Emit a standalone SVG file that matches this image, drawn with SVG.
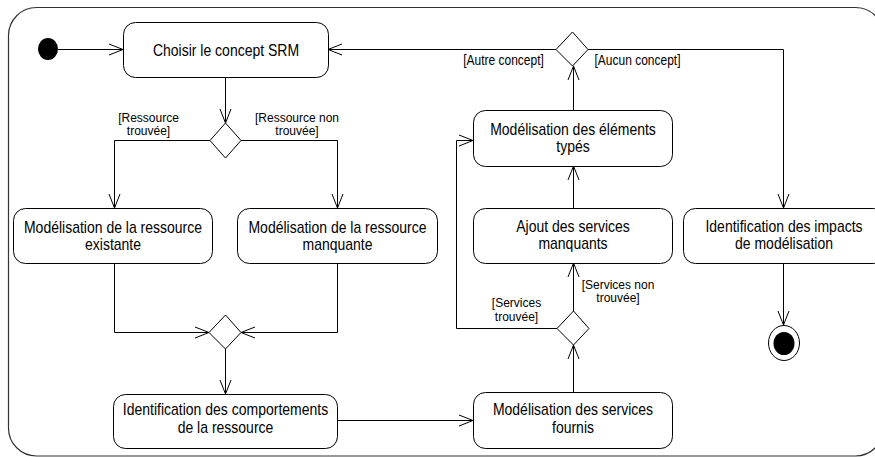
<svg xmlns="http://www.w3.org/2000/svg" width="875" height="457" viewBox="0 0 875 457">
<style>
.frame{fill:none;stroke:#333;stroke-width:1.2}
.act{fill:#fff;stroke:#000;stroke-width:1}
.dec{fill:#fff;stroke:#000;stroke-width:1}
.e{fill:none;stroke:#000;stroke-width:1;marker-end:url(#arr)}
.t{font-family:"Liberation Sans",Arial,sans-serif;font-size:14px;fill:#000;text-anchor:middle}
.l{font-family:"Liberation Sans",Arial,sans-serif;font-size:12px;fill:#000;text-anchor:middle}
</style>
<defs>
<marker id="arr" markerUnits="userSpaceOnUse" viewBox="0 0 14 11" refX="14" refY="5.5" markerWidth="14" markerHeight="11" orient="auto" overflow="visible">
<path d="M0,0 L14,5.5 L0,11" fill="none" stroke="#000" stroke-width="1"/>
</marker>
</defs>
<rect class="frame" x="8.5" y="7.5" width="875" height="448.5" rx="28" ry="28"/>

<g id="connectors">
<path class="e" d="M58,49.5 H123"/>
<path class="e" d="M225.5,77 V123"/>
<path class="e" d="M210,140.5 H114.5 V208"/>
<path class="e" d="M241,140.5 H337.5 V208"/>
<path class="e" d="M114.5,263 V332.5 H209"/>
<path class="e" d="M337.5,263 V332.5 H241"/>
<path class="e" d="M225.5,349 V394"/>
<path class="e" d="M337,420.5 H473"/>
<path class="e" d="M573.5,392 V345"/>
<path class="e" d="M573.5,311 V263"/>
<path class="e" d="M557,328.5 H456.5 V140.5 H473"/>
<path class="e" d="M573.5,208 V166"/>
<path class="e" d="M573.5,110 V66"/>
<path class="e" d="M556,49.5 H328"/>
<path class="e" d="M588,49.5 H783.5 V208"/>
<path class="e" d="M783.5,263 V325"/>
</g>

<g id="start"><ellipse cx="48" cy="49" rx="10" ry="11" fill="#000"/></g>

<g id="n1"><rect class="act" x="123.5" y="22.5" width="205" height="55" rx="12"/>
<text class="t" transform="translate(226,56) scale(1,1.15)">Choisir le concept SRM</text></g>

<g id="d1"><polygon class="dec" points="225.5,123 241,140.5 225.5,158 210,140.5"/></g>
<g id="lbl1"><text class="l" x="148.5" y="121.5">[Ressource<tspan x="148.5" dy="13.6">trouvée]</tspan></text></g>
<g id="lbl2"><text class="l" x="297" y="121.5">[Ressource non<tspan x="297" dy="13.6">trouvée]</tspan></text></g>

<g id="n2"><rect class="act" x="13.5" y="208.5" width="199" height="55" rx="12"/>
<text class="t" transform="translate(113,232.5) scale(1,1.15)"><tspan x="0" y="0">Modélisation de la ressource</tspan><tspan x="0" dy="15.6">existante</tspan></text></g>

<g id="n3"><rect class="act" x="237.5" y="208.5" width="200" height="55" rx="12"/>
<text class="t" transform="translate(337.5,232.5) scale(1,1.15)"><tspan x="0" y="0">Modélisation de la ressource</tspan><tspan x="0" dy="15.6">manquante</tspan></text></g>

<g id="d2"><polygon class="dec" points="225.5,315 241,332.5 225.5,349 209,332.5"/></g>

<g id="n4"><rect class="act" x="113.5" y="394.5" width="224" height="54" rx="12"/>
<text class="t" transform="translate(225.5,415) scale(1,1.15)"><tspan x="0" y="0">Identification des comportements</tspan><tspan x="0" dy="15.6">de la ressource</tspan></text></g>

<g id="n5"><rect class="act" x="473.5" y="392.5" width="199" height="56" rx="12"/>
<text class="t" transform="translate(573,415) scale(1,1.15)"><tspan x="0" y="0">Modélisation des services</tspan><tspan x="0" dy="15.6">fournis</tspan></text></g>

<g id="d3"><polygon class="dec" points="573.5,311 589,328.5 573.5,345 557,328.5"/></g>
<g id="lbl3"><text class="l" x="618" y="288.5">[Services non<tspan x="618" dy="13.8">trouvée]</tspan></text></g>
<g id="lbl4"><text class="l" x="516.5" y="307">[Services<tspan x="516.5" dy="14">trouvée]</tspan></text></g>

<g id="n6"><rect class="act" x="473.5" y="208.5" width="199" height="55" rx="12"/>
<text class="t" transform="translate(573,231.5) scale(1,1.15)"><tspan x="0" y="0">Ajout des services</tspan><tspan x="0" dy="15.6">manquants</tspan></text></g>

<g id="n7"><rect class="act" x="473.5" y="110.5" width="199" height="56" rx="12"/>
<text class="t" transform="translate(573,134.5) scale(1,1.15)"><tspan x="0" y="0">Modélisation des éléments</tspan><tspan x="0" dy="15.6">typés</tspan></text></g>

<g id="d4"><polygon class="dec" points="572.5,32 588,49.5 572.5,66 556,49.5"/></g>
<g id="lbl5"><text class="l" transform="translate(503.5,65) scale(1,1.15)">[Autre concept]</text></g>
<g id="lbl6"><text class="l" transform="translate(637.5,65) scale(1,1.15)">[Aucun concept]</text></g>

<g id="n8"><rect class="act" x="683.5" y="208.5" width="202" height="55" rx="12"/>
<text class="t" transform="translate(784,231.5) scale(1,1.15)"><tspan x="0" y="0">Identification des impacts</tspan><tspan x="0" dy="15.6">de modélisation</tspan></text></g>

<g id="final"><ellipse cx="784" cy="343" rx="15.5" ry="17.5" fill="#fff" stroke="#000" stroke-width="1"/>
<ellipse cx="784" cy="343.5" rx="10.5" ry="11.5" fill="#000"/></g>
</svg>
